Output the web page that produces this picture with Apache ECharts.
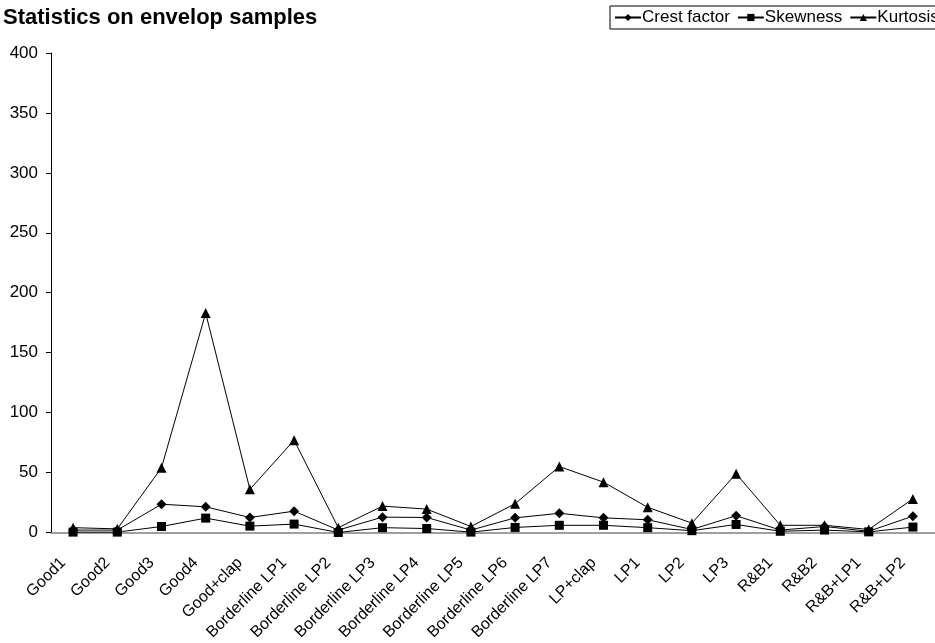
<!DOCTYPE html>
<html>
<head>
<meta charset="utf-8">
<script src="https://cdn.jsdelivr.net/npm/echarts@6/dist/echarts.min.js"></script>
<style>html,body{margin:0;padding:0;background:#fff}#c{width:935px;height:643px}</style>
</head>
<body>
<div id="c"></div>
<script>
var categories = ["Good1","Good2","Good3","Good4","Good+clap","Borderline LP1","Borderline LP2","Borderline LP3","Borderline LP4","Borderline LP5","Borderline LP6","Borderline LP7","LP+clap","LP1","LP2","LP3","R&B1","R&B2","R&B+LP1","R&B+LP2"];
var crestFactor = [2, 2, 23.6, 21.4, 12.5, 17.8, 2, 12.8, 12.5, 2, 12.2, 16, 12.2, 10.6, 2.5, 14, 2, 5, 1, 13.6];
var skewness = [0.3, 0.3, 5, 12, 5.3, 7, 0, 4, 3.3, 0.3, 4.2, 6, 6, 4, 1.5, 6.7, 1, 2, 0.5, 4.5];
var kurtosis = [4, 3, 54, 183, 36, 77, 4, 22, 19.5, 5, 24, 55, 42, 21, 7.8, 49, 6, 6, 2.5, 28];
var yTicks = {min: 0, max: 400, interval: 50};

var chart = echarts.init(document.getElementById('c'));
var font = "'Liberation Sans', Arial, sans-serif";
function ser(name, data, symbol, size) {
  return {
    name: name, type: 'line', data: data, symbol: symbol, symbolSize: size,
    lineStyle: {color: '#000', width: 1}, itemStyle: {color: '#000'},
    animation: false
  };
}
chart.setOption({
  animation: false,
  title: {text: 'Statistics on envelop samples', left: 1, top: 5, padding: [2, 2],
    textStyle: {fontFamily: font, fontSize: 22, fontWeight: 'bold', color: '#000'}},
  legend: {
    left: 610, top: 6, width: 420, orient: 'horizontal',
    borderColor: '#000', borderWidth: 1, padding: [3, 4, 3, 4],
    itemGap: 7, itemWidth: 26, itemHeight: 9,
    textStyle: {fontFamily: font, fontSize: 17, color: '#000', padding: [0, 0, 0, -4]},
    data: ['Crest factor', 'Skewness', 'Kurtosis']
  },
  grid: {left: 51, top: 53, width: 892.6, height: 480, containLabel: false},
  xAxis: {
    type: 'category', data: categories, boundaryGap: true,
    axisLine: {lineStyle: {color: '#808080', width: 1.5}},
    axisTick: {show: false},
    axisLabel: {rotate: 45, fontFamily: font, fontSize: 16, color: '#000', margin: 18,
      padding: [0, 14, 0, 0], interval: 0}
  },
  yAxis: {
    type: 'value', min: yTicks.min, max: yTicks.max, interval: yTicks.interval,
    axisLine: {show: true, lineStyle: {color: '#000', width: 1}},
    axisTick: {show: true, inside: false, length: 5, lineStyle: {color: '#000'}},
    splitLine: {show: false},
    axisLabel: {fontFamily: font, fontSize: 17, color: '#000', margin: 13}
  },
  series: [
    ser('Crest factor', crestFactor, 'diamond', 10),
    ser('Skewness', skewness, 'rect', 9),
    ser('Kurtosis', kurtosis, 'triangle', 10)
  ]
});
</script>
</body>
</html>
